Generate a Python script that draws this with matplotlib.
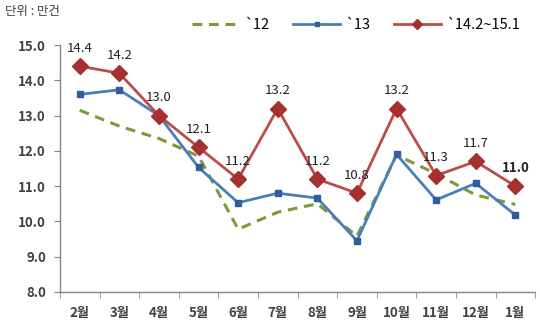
import numpy as np
import matplotlib.pyplot as plt

plt.rcParams['font.family'] = ['Noto Sans CJK KR', 'DejaVu Sans']

months = ["2월", "3월", "4월", "5월", "6월", "7월", "8월", "9월", "10월", "11월", "12월", "1월"]
y12 = [13.15, 12.7, 12.35, 11.85, 9.78, 10.26, 10.5, 9.58, 11.88, 11.35, 10.75, 10.48]
y13 = [13.6, 13.73, 13.0, 11.53, 10.53, 10.8, 10.66, 9.45, 11.9, 10.61, 11.08, 10.18]
y14 = [14.4, 14.2, 13.0, 12.1, 11.2, 13.2, 11.2, 10.8, 13.2, 11.3, 11.7, 11.0]

green = "#7A9A3C"
blue = "#4A7EBB"
red = "#BE4B48"
text_c = "#404040"

fig = plt.figure(figsize=(5.4, 3.31), dpi=100)
ax = fig.add_axes([0.111, 0.118, 0.880, 0.746])

x = np.arange(len(months))
ax.plot(x, y12, color=green, lw=2.2, ls=(0, (3.2, 2.2)), label="`12")
ax.plot(x, y13, color=blue, lw=2.0, marker="s", ms=5, mfc="#2F5F9A", mec="#2F5F9A",
        label="`13")
ax.plot(x, y14, color=red, lw=2.0, marker="D", ms=8, mfc="#A6302E", mec="#A6302E",
        label="`14.2~15.1")

# data labels for the latest series
for i, v in enumerate(y14):
    last = i == len(y14) - 1
    ax.annotate("{:.1f}".format(v), (i, v), xytext=(0, 8), textcoords="offset points",
                ha="center", va="bottom", fontsize=9.5, color="#202020",
                fontweight="bold" if last else "normal")

ax.set_xlim(-0.5, len(months) - 0.5)
ax.set_ylim(8, 15)
ax.set_yticks(np.arange(8, 15.1, 1))
ax.set_yticklabels(["{:.1f}".format(t) for t in np.arange(8, 15.1, 1)])
ax.set_xticks(x)
ax.set_xticklabels(months)
ax.set_xticks(np.arange(-0.5, len(months), 1), minor=True)
ax.tick_params(axis="x", which="major", length=0, pad=10)
ax.tick_params(axis="x", which="minor", length=4, color="#868686")
ax.tick_params(axis="y", length=4, color="#868686", pad=6)
for lab in ax.get_xticklabels() + ax.get_yticklabels():
    lab.set_fontweight("bold")
    lab.set_fontsize(9.5)
    lab.set_color(text_c)

for s in ["top", "right"]:
    ax.spines[s].set_visible(False)
for s in ["left", "bottom"]:
    ax.spines[s].set_color("#868686")
    ax.spines[s].set_linewidth(1.0)

fig.text(0.01, 0.965, "단위 : 만건", fontsize=9, color=text_c, va="center")

fig.legend(loc="center", bbox_to_anchor=(0.66, 0.925), ncol=3, frameon=False,
           fontsize=10.5, handlelength=3.2, columnspacing=1.6, handletextpad=0.4,
           markerscale=0.6)

fig.savefig("out.png", dpi=100)
